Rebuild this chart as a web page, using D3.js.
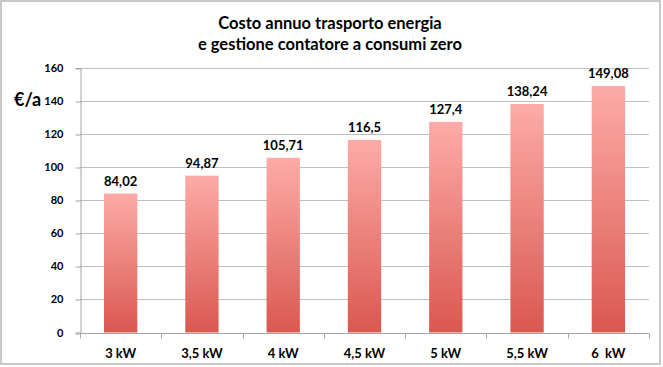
<!DOCTYPE html>
<html>
<head>
<meta charset="utf-8">
<script src="https://cdn.jsdelivr.net/npm/d3@7"></script>
<style>
  html, body { margin: 0; padding: 0; background: #fff; }
  svg { display: block; font-family: Lato, "Open Sans", sans-serif; }
</style>
</head>
<body>
<svg id="chart" width="663" height="367"></svg>
<script>
// data
const categories = ["3 kW", "3,5 kW", "4 kW", "4,5 kW", "5 kW", "5,5 kW", "6  kW"];
const costs = [84.02, 94.87, 105.71, 116.5, 127.4, 138.24, 149.08];
const costLabels = ["84,02", "94,87", "105,71", "116,5", "127,4", "138,24", "149,08"];
const yTicks = [0, 20, 40, 60, 80, 100, 120, 140, 160];
const titleLines = ["Costo annuo trasporto energia", "e gestione contatore a consumi zero"];

const W = 663, H = 367;
const plot = { left: 80, right: 649, top: 68, bottom: 332.5 };

const svg = d3.select("#chart");

// outer frame
svg.append("rect")
  .attr("x", 1).attr("y", 1)
  .attr("width", W - 4).attr("height", H - 4)
  .attr("fill", "#fff")
  .attr("stroke", "#c8c8c8")
  .attr("stroke-width", 2);

// gradient for the bars (light pink on top, darker red at the bottom)
const grad = svg.append("defs").append("linearGradient")
  .attr("id", "barGrad")
  .attr("x1", 0).attr("y1", 0).attr("x2", 0).attr("y2", 1);
grad.append("stop").attr("offset", "0%").attr("stop-color", "#fdaba8");
grad.append("stop").attr("offset", "100%").attr("stop-color", "#da5850");

const x = d3.scaleBand()
  .domain(categories)
  .range([plot.left, plot.right])
  .paddingInner(0.59)
  .paddingOuter(0.295);

const y = d3.scaleLinear()
  .domain([0, 160])
  .range([plot.bottom, plot.top]);

// gridlines
svg.append("g")
  .selectAll("line")
  .data(yTicks.filter(d => d > 0))
  .enter()
  .append("line")
  .attr("x1", plot.left).attr("x2", plot.right)
  .attr("y1", d => Math.round(y(d)) + 0.5)
  .attr("y2", d => Math.round(y(d)) + 0.5)
  .attr("stroke", "#c0c0c0")
  .attr("stroke-width", 1);

// y axis
const yAxis = svg.append("g")
  .attr("transform", `translate(${plot.left + 0.5},0)`)
  .call(d3.axisLeft(y).tickValues(yTicks).tickSize(5).tickPadding(12).tickFormat(d3.format("d")));
yAxis.select(".domain").attr("stroke", "#a6a6a6");
yAxis.selectAll(".tick line").attr("stroke", "#a6a6a6").attr("transform", d => `translate(0,${Math.round(y(d)) + 0.5 - y(d)})`);
yAxis.selectAll(".tick text")
  .attr("font-family", "Lato, sans-serif")
  .attr("font-size", 11)
  .attr("font-weight", "bold")
  .attr("fill", "#000");

// x axis: tick marks sit between categories
const xAxisG = svg.append("g")
  .attr("transform", `translate(0,${Math.round(plot.bottom) + 0.5})`);
xAxisG.append("line")
  .attr("x1", plot.left).attr("x2", plot.right)
  .attr("stroke", "#a6a6a6");
const step = x.step();
xAxisG.selectAll("line.sep")
  .data(d3.range(categories.length + 1))
  .enter()
  .append("line")
  .attr("class", "sep")
  .attr("x1", i => Math.round(plot.left + i * step) + 0.5)
  .attr("x2", i => Math.round(plot.left + i * step) + 0.5)
  .attr("y1", 0).attr("y2", 5)
  .attr("stroke", "#a6a6a6");
xAxisG.selectAll("text")
  .data(categories)
  .enter()
  .append("text")
  .attr("x", d => x(d) + x.bandwidth() / 2)
  .attr("y", 24)
  .attr("text-anchor", "middle")
  .attr("font-size", 13)
  .attr("font-weight", "bold")
  .attr("fill", "#000")
  .style("white-space", "pre")
  .text(d => d);

// bars
svg.append("g")
  .selectAll("rect")
  .data(costs)
  .enter()
  .append("rect")
  .attr("x", (d, i) => x(categories[i]))
  .attr("y", d => y(d))
  .attr("width", x.bandwidth())
  .attr("height", d => y(0) - y(d))
  .attr("fill", "url(#barGrad)");

// value labels
svg.append("g")
  .selectAll("text")
  .data(costs)
  .enter()
  .append("text")
  .attr("x", (d, i) => x(categories[i]) + x.bandwidth() / 2)
  .attr("y", d => y(d) - 8)
  .attr("text-anchor", "middle")
  .attr("font-size", 13)
  .attr("font-weight", "bold")
  .attr("fill", "#000")
  .text((d, i) => costLabels[i]);

// y axis unit
svg.append("text")
  .attr("x", 14).attr("y", 106)
  .attr("font-size", 18)
  .attr("font-weight", "bold")
  .attr("fill", "#000")
  .text("€/a");

// title
svg.append("g")
  .selectAll("text")
  .data(titleLines)
  .enter()
  .append("text")
  .attr("x", 330)
  .attr("y", (d, i) => 29 + i * 21)
  .attr("text-anchor", "middle")
  .attr("font-size", 16.5)
  .attr("font-weight", "bold")
  .attr("fill", "#000")
  .text(d => d);
</script>
</body>
</html>
